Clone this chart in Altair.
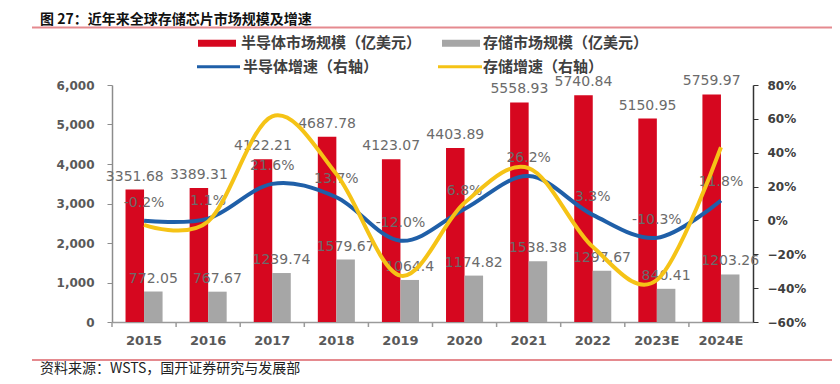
import altair as alt
import pandas as pd

# ---------------- data ----------------
years = ["2015", "2016", "2017", "2018", "2019", "2020", "2021", "2022", "2023E", "2024E"]
semi_size = [3351.68, 3389.31, 4122.21, 4687.78, 4123.07, 4403.89, 5558.93, 5740.84, 5150.95, 5759.97]
mem_size = [772.05, 767.67, 1239.74, 1579.67, 1064.4, 1174.82, 1538.38, 1297.67, 840.41, 1203.26]
semi_growth = [-0.2, 1.1, 21.6, 13.7, -12.0, 6.8, 26.2, 3.3, -10.3, 11.8]
mem_growth = [-2.6, -0.6, 61.5, 27.4, -32.6, 10.4, 30.9, -15.6, -35.2, 43.2]

series_names = ["半导体市场规模（亿美元）", "存储市场规模（亿美元）", "半导体增速（右轴）", "存储增速（右轴）"]
title_text = "图 27：近年来全球存储芯片市场规模及增速"
source_text = "资料来源：WSTS，国开证券研究与发展部"

# ---------------- styles ----------------
RED = "#D6071F"
GRAY = "#A6A6A6"
BLUE = "#1F5FA8"
YELLOW = "#F5C316"
PINK = "#E58A8F"
LABEL_GRAY = "#6B6B6B"
AXIS_GRAY = "#595959"
W, H = 641, 237

bars_df = pd.concat([
    pd.DataFrame({"year": years, "series": series_names[0], "value": semi_size,
                  "label": [str(v) for v in semi_size]}),
    pd.DataFrame({"year": years, "series": series_names[1], "value": mem_size,
                  "label": [str(v) for v in mem_size]}),
], ignore_index=True)

growth_df = pd.DataFrame({
    "year": years,
    "semi": semi_growth,
    "mem": mem_growth,
    "plabel": [f"{v:.1f}%" for v in semi_growth],
})

x_axis = alt.Axis(labelAngle=0, ticks=False, labelPadding=12,
                  labelFont="DejaVu Sans", labelFontWeight="bold",
                  labelFontSize=13, labelColor=AXIS_GRAY,
                  domainColor="#9a9a9a", domainWidth=1.5)
x_scale = alt.Scale(paddingInner=0, paddingOuter=0)


def xenc(**kw):
    return alt.X("year:N", sort=years, title=None, scale=x_scale, axis=x_axis, **kw)


xo_enc = alt.XOffset("series:N", sort=series_names[:2],
                     scale=alt.Scale(paddingInner=0, paddingOuter=0.73))

left_axis = alt.Axis(orient="left", values=[0, 1000, 2000, 3000, 4000, 5000, 6000],
                     labelExpr="format(datum.value, ',')", grid=False, tickSize=5,
                     tickColor="#8c8c8c", domainColor="#8c8c8c", domainWidth=1.5,
                     labelPadding=13, labelFont="DejaVu Sans", labelFontWeight="bold",
                     labelFontSize=12, labelColor=AXIS_GRAY, labelOverlap=False)
left_scale = alt.Scale(domain=[0, 6000], nice=False)
y_left = alt.Y("value:Q", title=None, scale=left_scale, axis=left_axis)

bars = alt.Chart(bars_df).mark_bar().encode(
    x=xenc(), xOffset=xo_enc, y=y_left,
    color=alt.Color("series:N", scale=alt.Scale(domain=series_names[:2], range=[RED, GRAY]),
                    legend=None),
)
bar_labels = alt.Chart(bars_df).mark_text(
    baseline="middle", dy=-13, font="DejaVu Sans", fontSize=14, color=LABEL_GRAY
).encode(x=xenc(), xOffset=xo_enc, y=y_left, text="label:N")

x_ticks = alt.Chart(growth_df).mark_rule(color="#9a9a9a", strokeWidth=1.5).encode(
    x=xenc(bandPosition=0),
    y=alt.value(H), y2=alt.value(H + 5),
)

left_group = alt.layer(bars, bar_labels, x_ticks)

pct_scale = alt.Scale(domain=[-60, 80], nice=False)
right_axis = alt.Axis(orient="right", values=[-60, -40, -20, 0, 20, 40, 60, 80],
                      labelExpr="format(datum.value/100, '.0%')", grid=False,
                      tickSize=5, tickColor="#333333", domainColor="#333333",
                      domainWidth=1.5, labelPadding=9, labelOverlap=False,
                      labelFont="DejaVu Sans", labelFontWeight="bold",
                      labelFontSize=12, labelColor="#404040")


def yright(field):
    return alt.Y(f"{field}:Q", title=None, scale=pct_scale, axis=right_axis)


pct_labels = alt.Chart(growth_df).mark_text(
    baseline="middle", dy=-18, font="DejaVu Sans", fontSize=14, color=LABEL_GRAY
).encode(x=xenc(), y=yright("semi"), text="plabel:N")

blue_line = alt.Chart(growth_df).mark_line(
    color=BLUE, strokeWidth=4, interpolate="cardinal"
).encode(x=xenc(), y=yright("semi"))

yellow_line = alt.Chart(growth_df).mark_line(
    color=YELLOW, strokeWidth=4, interpolate="cardinal"
).encode(x=xenc(), y=yright("mem"))

right_group = alt.layer(pct_labels, blue_line, yellow_line)

# ---------------- decorations (title, rules, legend, source) ----------------
one = pd.DataFrame({"k": [0]})
deco = []


def text_layer(txt, x, y, size, weight="normal", color="#222222", font="Noto Sans CJK SC"):
    return alt.Chart(one).mark_text(
        align="left", baseline="middle", font=font, fontSize=size,
        fontWeight=weight, color=color, text=txt
    ).encode(x=alt.value(x), y=alt.value(y))


def hrule(x1, x2, y, color, width):
    return alt.Chart(one).mark_rule(color=color, strokeWidth=width).encode(
        x=alt.value(x1), x2=alt.value(x2), y=alt.value(y))


deco.append(text_layer(title_text, -72, -65.5, 14, "bold", "#111111"))
deco.append(hrule(-80, 730, -57.5, PINK, 2))
deco.append(hrule(-80, 730, 275, PINK, 2))
deco.append(text_layer(source_text, -72, 283.5, 14, "normal", "#222222"))

# legend
row1, row2 = -41.7, -18.3
leg_spec = [
    (series_names[0], RED, "rect", 86, 124, row1, 129),
    (series_names[1], GRAY, "rect", 330, 368, row1, 371),
    (series_names[2], BLUE, "line", 85, 128, row2, 131),
    (series_names[3], YELLOW, "line", 326, 370, row2, 371),
]
for name, col, kind, sx1, sx2, yy, tx in leg_spec:
    if kind == "rect":
        deco.append(alt.Chart(one).mark_rect(color=col).encode(
            x=alt.value(sx1), x2=alt.value(sx2), y=alt.value(yy - 3.5), y2=alt.value(yy + 3.5)))
    else:
        deco.append(hrule(sx1, sx2, yy, col, 3))
    deco.append(text_layer(name, tx, yy, 15, "bold", "#404040"))

chart = alt.layer(left_group, right_group, *deco).resolve_scale(
    y="independent"
).properties(
    width=W, height=H,
    autosize=alt.AutoSizeParams(type="none"),
    padding={"left": 104, "top": 77, "right": 79, "bottom": 54},
    background="white",
).configure_view(stroke=None)

chart.save("out.html", embed_options={"renderer": "svg", "actions": False})
